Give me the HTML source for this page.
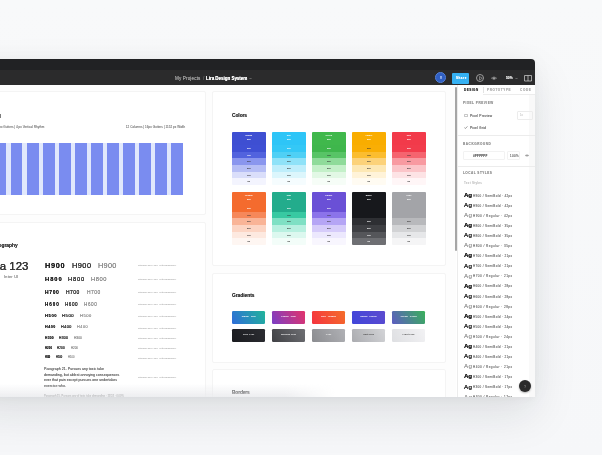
<!DOCTYPE html><html><head><meta charset="utf-8"><style>
*{margin:0;padding:0;box-sizing:border-box}
html,body{width:602px;height:455px;overflow:hidden}
body{position:relative;font-family:"Liberation Sans",sans-serif;background:linear-gradient(180deg,#f8f9fa 0px,#f6f7f9 455px)}
.a{position:absolute}
.t{position:absolute;white-space:nowrap;line-height:1;transform:scale(.1);transform-origin:0 0;text-shadow:0 0 4px currentColor}
.tr{transform-origin:100% 0}
#shadow{position:absolute;left:-30px;top:59px;width:565px;height:338px;border-radius:0 4px 0 0;box-shadow:0 18px 44px rgba(20,25,35,.10),0 2px 6px rgba(20,25,35,.03),0 0 24px rgba(20,25,35,.03)}
#win{position:absolute;left:0;top:0;width:602px;height:455px;clip-path:inset(59px 67px 58px 0 round 0 4px 0 0);will-change:transform}
.card{position:absolute;background:#fff;border:1px solid #f4f4f4;border-radius:2px}
.sw{position:absolute;width:33.6px;border-radius:1px;overflow:hidden}
.sw div{height:6.65px;font-size:2.3px;line-height:6.65px;text-align:center;font-weight:700}
.gr{position:absolute;width:33.2px;height:12.8px;border-radius:1.2px;font-size:2.4px;line-height:12.8px;text-align:center;color:#fff;font-weight:700}
</style></head><body>
<div id="shadow"></div>
<div id="win">
<div class="a" style="left:0;top:59px;width:535px;height:11.5px;background:#212224"></div>
<div class="a" style="left:0;top:70px;width:535px;height:15px;background:#2b2b2c"></div>
<div class="a" style="left:0;top:85px;width:456px;height:312px;background:#fdfdfd"></div>
<div class="a" style="left:456px;top:85px;width:79px;height:312px;background:#fff"></div>
<div class="t f0" style="left:175px;top:75.70px;font-size:46.00px;color:#a5a5a5;font-weight:400;letter-spacing:1.333px;">My Projects</div>
<div class="t" style="left:202.5px;top:75.70px;font-size:46.00px;color:#666;font-weight:400;">/</div>
<div class="t f1" style="left:206.2px;top:75.70px;font-size:46.00px;color:#fff;font-weight:700;letter-spacing:-0.785px;">Lira Design System</div>
<svg class="a" style="left:248.5px;top:76.6px" width="3" height="3" viewBox="0 0 3 3"><path d="M0.5 1 L1.5 2 L2.5 1" stroke="#8a8a8a" stroke-width="0.7" fill="none"/></svg>
<div class="a" style="left:435.3px;top:72.3px;width:10.8px;height:10.8px;border-radius:50%;background:#2f5fc4;border:1.2px solid #5581d6"></div>
<div class="t" style="left:439.5px;top:76.30px;font-size:30.00px;color:#bcd0f5;font-weight:700;">V</div>
<div class="a" style="left:452px;top:73px;width:16.8px;height:10.6px;border-radius:1px;background:#35b1f3"></div>
<div class="t f2" style="left:455.6px;top:76.40px;font-size:30.00px;color:#fff;font-weight:700;letter-spacing:4.902px;">Share</div>
<div class="a" style="left:475.5px;top:73.5px;width:8.8px;height:8.8px;border-radius:50%;border:0.9px solid #9c9c9c"></div>
<svg class="a" style="left:478.5px;top:75.8px" width="4" height="5" viewBox="0 0 4 5"><path d="M0.5 0.5 L3.3 2.2 L0.5 4 Z" stroke="#b0b0b0" stroke-width="0.6" fill="none"/></svg>
<svg class="a" style="left:491.2px;top:75.6px" width="6" height="4.4" viewBox="0 0 6 4.4"><path d="M0.4 2.2 Q3 -0.4 5.6 2.2 Q3 4.8 0.4 2.2 Z" stroke="#a8a8a8" stroke-width="0.6" fill="none"/><circle cx="3" cy="2.2" r="1" fill="#a8a8a8"/></svg>
<div class="t" style="left:505.5px;top:76.35px;font-size:33.00px;color:#e8e8e8;font-weight:700;">50%</div>
<svg class="a" style="left:514.5px;top:76.8px" width="3" height="3" viewBox="0 0 3 3"><path d="M0.4 0.9 L1.5 2 L2.6 0.9" stroke="#aaa" stroke-width="0.5" fill="none"/></svg>
<svg class="a" style="left:524px;top:74.5px" width="8" height="7" viewBox="0 0 8 7"><path d="M0.5 0.5 H7.5 V6 H0.5 Z M4 0.5 V6" stroke="#d5d5d5" stroke-width="0.7" fill="none"/></svg>
<div class="card" style="left:-20px;top:91px;width:226px;height:124px"></div>
<div class="t tr" style="right:600.50px;top:112.70px;font-size:56.00px;color:#777;font-weight:700;">Layout Grid</div>
<div class="t tr" style="right:557.60px;top:125.25px;font-size:31.00px;color:#858585;font-weight:400;">24px Margins | 16px Gutters | 4 px Vertical Rhythm</div>
<div class="t tr f3" style="right:417.30px;top:125.25px;font-size:31.00px;color:#858585;font-weight:400;letter-spacing:0.094px;">12 Columns | 16px Gutters | 1152 px Width</div>
<div class="a" style="left:-10px;top:142.5px;width:193px;height:52.5px;background:#e1e8fc"></div>
<div class="a" style="left:171.30px;top:142.5px;width:11.7px;height:52.5px;background:#7a8cf0"></div>
<div class="a" style="left:155.25px;top:142.5px;width:11.7px;height:52.5px;background:#7a8cf0"></div>
<div class="a" style="left:139.20px;top:142.5px;width:11.7px;height:52.5px;background:#7a8cf0"></div>
<div class="a" style="left:123.15px;top:142.5px;width:11.7px;height:52.5px;background:#7a8cf0"></div>
<div class="a" style="left:107.10px;top:142.5px;width:11.7px;height:52.5px;background:#7a8cf0"></div>
<div class="a" style="left:91.05px;top:142.5px;width:11.7px;height:52.5px;background:#7a8cf0"></div>
<div class="a" style="left:75.00px;top:142.5px;width:11.7px;height:52.5px;background:#7a8cf0"></div>
<div class="a" style="left:58.95px;top:142.5px;width:11.7px;height:52.5px;background:#7a8cf0"></div>
<div class="a" style="left:42.90px;top:142.5px;width:11.7px;height:52.5px;background:#7a8cf0"></div>
<div class="a" style="left:26.85px;top:142.5px;width:11.7px;height:52.5px;background:#7a8cf0"></div>
<div class="a" style="left:10.80px;top:142.5px;width:11.7px;height:52.5px;background:#7a8cf0"></div>
<div class="a" style="left:-5.25px;top:142.5px;width:11.7px;height:52.5px;background:#7a8cf0"></div>
<div class="card" style="left:-20px;top:222px;width:226px;height:200px"></div>
<div class="t tr" style="right:584.00px;top:242.55px;font-size:49.00px;color:#3a3a3a;font-weight:700;">Typography</div>
<div class="t tr" style="right:573.70px;top:260.25px;font-size:115.00px;color:#333;font-weight:400;-webkit-text-stroke:2.200px #333;">Aa 123</div>
<div class="t f4" style="left:4.3px;top:274.70px;font-size:38.00px;color:#8a8a8a;font-weight:400;letter-spacing:2.456px;">Inter UI</div>
<div class="t f5" style="left:45.0px;top:261.80px;font-size:74.00px;color:#222;font-weight:700;letter-spacing:6.831px;">H900</div>
<div class="t f6" style="left:71.8px;top:261.80px;font-size:74.00px;color:#333;font-weight:400;-webkit-text-stroke:1.200px #333;letter-spacing:4.498px;">H900</div>
<div class="t f7" style="left:97.9px;top:261.80px;font-size:74.00px;color:#8a8a8a;font-weight:400;letter-spacing:2.165px;">H900</div>
<div class="t f8" style="left:45.0px;top:276.10px;font-size:58.00px;color:#222;font-weight:700;letter-spacing:9.715px;">H800</div>
<div class="t f9" style="left:68.2px;top:276.10px;font-size:58.00px;color:#333;font-weight:400;-webkit-text-stroke:1.200px #333;letter-spacing:7.715px;">H800</div>
<div class="t f10" style="left:90.8px;top:276.10px;font-size:58.00px;color:#8a8a8a;font-weight:400;letter-spacing:5.381px;">H800</div>
<div class="t f11" style="left:45.0px;top:289.50px;font-size:50.00px;color:#222;font-weight:700;letter-spacing:6.490px;">H700</div>
<div class="t f12" style="left:66.0px;top:289.50px;font-size:50.00px;color:#333;font-weight:400;-webkit-text-stroke:1.200px #333;letter-spacing:4.490px;">H700</div>
<div class="t f13" style="left:86.6px;top:289.50px;font-size:50.00px;color:#8a8a8a;font-weight:400;letter-spacing:4.156px;">H700</div>
<div class="t f14" style="left:44.6px;top:302.30px;font-size:46.00px;color:#222;font-weight:700;letter-spacing:9.210px;">H600</div>
<div class="t f15" style="left:64.9px;top:302.30px;font-size:46.00px;color:#333;font-weight:400;-webkit-text-stroke:1.200px #333;letter-spacing:5.210px;">H600</div>
<div class="t f16" style="left:84.0px;top:302.30px;font-size:46.00px;color:#8a8a8a;font-weight:400;letter-spacing:6.210px;">H600</div>
<div class="t f17" style="left:44.6px;top:314.25px;font-size:41.00px;color:#222;font-weight:700;letter-spacing:5.695px;">H500</div>
<div class="t f18" style="left:62.4px;top:314.25px;font-size:41.00px;color:#333;font-weight:400;-webkit-text-stroke:1.200px #333;letter-spacing:5.695px;">H500</div>
<div class="t f19" style="left:79.8px;top:314.25px;font-size:41.00px;color:#8a8a8a;font-weight:400;letter-spacing:4.695px;">H500</div>
<div class="t f20" style="left:44.6px;top:325.35px;font-size:37.00px;color:#222;font-weight:700;letter-spacing:5.082px;">H400</div>
<div class="t f21" style="left:60.7px;top:325.35px;font-size:37.00px;color:#333;font-weight:400;-webkit-text-stroke:1.200px #333;letter-spacing:5.082px;">H400</div>
<div class="t f22" style="left:77.0px;top:325.35px;font-size:37.00px;color:#8a8a8a;font-weight:400;letter-spacing:6.082px;">H400</div>
<div class="t f23" style="left:44.6px;top:336.15px;font-size:33.00px;color:#222;font-weight:700;letter-spacing:2.470px;">H300</div>
<div class="t f24" style="left:59.0px;top:336.15px;font-size:33.00px;color:#333;font-weight:400;-webkit-text-stroke:1.200px #333;letter-spacing:2.803px;">H300</div>
<div class="t f25" style="left:74.0px;top:336.15px;font-size:33.00px;color:#8a8a8a;font-weight:400;letter-spacing:-0.197px;">H300</div>
<div class="t f26" style="left:44.6px;top:346.55px;font-size:29.00px;color:#222;font-weight:700;letter-spacing:0.191px;">H200</div>
<div class="t f27" style="left:57.4px;top:346.55px;font-size:29.00px;color:#333;font-weight:400;-webkit-text-stroke:1.200px #333;letter-spacing:1.857px;">H200</div>
<div class="t f28" style="left:70.7px;top:346.55px;font-size:29.00px;color:#8a8a8a;font-weight:400;letter-spacing:-0.143px;">H200</div>
<div class="t f29" style="left:44.6px;top:356.30px;font-size:26.00px;color:#222;font-weight:700;letter-spacing:-3.185px;">H100</div>
<div class="t f30" style="left:56.0px;top:356.30px;font-size:26.00px;color:#333;font-weight:400;-webkit-text-stroke:1.200px #333;letter-spacing:0.148px;">H100</div>
<div class="t f31" style="left:67.9px;top:356.30px;font-size:26.00px;color:#8a8a8a;font-weight:400;letter-spacing:0.481px;">H100</div>
<div class="t f32" style="left:137.8px;top:263.80px;font-size:22.00px;color:#b8b8b8;font-weight:400;letter-spacing:-0.760px;">Inter Bold 42px / 48px &middot; Letter Spacing 0%</div>
<div class="t f33" style="left:137.8px;top:277.90px;font-size:22.00px;color:#b8b8b8;font-weight:400;letter-spacing:-0.760px;">Inter Bold 42px / 48px &middot; Letter Spacing 0%</div>
<div class="t f34" style="left:137.8px;top:291.10px;font-size:22.00px;color:#b8b8b8;font-weight:400;letter-spacing:-0.760px;">Inter Bold 42px / 48px &middot; Letter Spacing 0%</div>
<div class="t f35" style="left:137.8px;top:303.40px;font-size:22.00px;color:#b8b8b8;font-weight:400;letter-spacing:-0.760px;">Inter Bold 42px / 48px &middot; Letter Spacing 0%</div>
<div class="t f36" style="left:137.8px;top:314.90px;font-size:22.00px;color:#b8b8b8;font-weight:400;letter-spacing:-0.760px;">Inter Bold 42px / 48px &middot; Letter Spacing 0%</div>
<div class="t f37" style="left:137.8px;top:326.50px;font-size:22.00px;color:#b8b8b8;font-weight:400;letter-spacing:-0.760px;">Inter Bold 42px / 48px &middot; Letter Spacing 0%</div>
<div class="t f38" style="left:137.8px;top:337.00px;font-size:22.00px;color:#b8b8b8;font-weight:400;letter-spacing:-0.760px;">Inter Bold 42px / 48px &middot; Letter Spacing 0%</div>
<div class="t f39" style="left:137.8px;top:346.90px;font-size:22.00px;color:#b8b8b8;font-weight:400;letter-spacing:-0.760px;">Inter Bold 42px / 48px &middot; Letter Spacing 0%</div>
<div class="t f40" style="left:137.8px;top:356.90px;font-size:22.00px;color:#b8b8b8;font-weight:400;letter-spacing:-0.760px;">Inter Bold 42px / 48px &middot; Letter Spacing 0%</div>
<div class="t f41" style="left:137.8px;top:375.90px;font-size:22.00px;color:#b8b8b8;font-weight:400;letter-spacing:-0.760px;">Inter Bold 42px / 48px &middot; Letter Spacing 0%</div>
<div class="t" style="left:44.4px;top:367.40px;font-size:36.00px;color:#666;font-weight:400;">Paragraph 21. Pursues any toxic take</div>
<div class="t" style="left:44.4px;top:372.87px;font-size:36.00px;color:#666;font-weight:400;">demanding, but ablest annoying consequences</div>
<div class="t" style="left:44.4px;top:378.34px;font-size:36.00px;color:#666;font-weight:400;">ever that pain except pursues one undertakes</div>
<div class="t" style="left:44.4px;top:383.81px;font-size:36.00px;color:#666;font-weight:400;">exercise who.</div>
<div class="t f42" style="left:44.4px;top:394.70px;font-size:26.00px;color:#666;font-weight:400;letter-spacing:0.238px;">Paragraph 15. Pursues any of toxic take demanding &middot; 15/24 &middot; 0.00%</div>
<div class="card" style="left:212px;top:91px;width:234px;height:175px"></div>
<div class="t f43" style="left:232px;top:112.85px;font-size:49.00px;color:#3a3a3a;font-weight:700;letter-spacing:-0.858px;">Colors</div>
<div class="sw" style="left:232px;top:132px"><div style="height:13px;background:#3e4fd2;color:#fff;line-height:3.8px;padding-top:2.4px;font-weight:700">Indigo<br>500</div><div style="background:#3f50d4;color:#fff">600</div><div style="background:#5263de;color:#fff">700</div><div style="background:#8a96ee;color:#333">300</div><div style="background:#b6bef5;color:#333">200</div><div style="background:#dadefa;color:#333">100</div><div style="background:#f3f4fe;color:#333">50</div></div>
<div class="sw" style="left:272px;top:132px"><div style="height:13px;background:#2ec5f7;color:#fff;line-height:3.8px;padding-top:2.4px;font-weight:700">Sky<br>500</div><div style="background:#34c8f6;color:#fff">600</div><div style="background:#4fd0f5;color:#333">700</div><div style="background:#8fe2f8;color:#333">300</div><div style="background:#bfeefb;color:#333">200</div><div style="background:#dcf6fc;color:#333">100</div><div style="background:#f5fcfe;color:#333">50</div></div>
<div class="sw" style="left:312px;top:132px"><div style="height:13px;background:#40b84c;color:#fff;line-height:3.8px;padding-top:2.4px;font-weight:700">Green<br>500</div><div style="background:#3fb64c;color:#fff">600</div><div style="background:#58c466;color:#333">700</div><div style="background:#8fdb9a;color:#333">300</div><div style="background:#c4f0c9;color:#333">200</div><div style="background:#e2f8e5;color:#333">100</div><div style="background:#f6fdf7;color:#333">50</div></div>
<div class="sw" style="left:352px;top:132px"><div style="height:13px;background:#f9ad00;color:#fff;line-height:3.8px;padding-top:2.4px;font-weight:700">Amber<br>500</div><div style="background:#f9ae05;color:#333">600</div><div style="background:#fbbd30;color:#333">700</div><div style="background:#fcd27a;color:#333">300</div><div style="background:#fde8b5;color:#333">200</div><div style="background:#fff3d9;color:#333">100</div><div style="background:#fffbf2;color:#333">50</div></div>
<div class="sw" style="left:392px;top:132px"><div style="height:13px;background:#f23a4a;color:#fff;line-height:3.8px;padding-top:2.4px;font-weight:700">Red<br>500</div><div style="background:#f23c4c;color:#fff">600</div><div style="background:#f5646f;color:#333">700</div><div style="background:#f89aa1;color:#333">300</div><div style="background:#fbc5c9;color:#333">200</div><div style="background:#fde3e5;color:#333">100</div><div style="background:#fff6f7;color:#333">50</div></div>
<div class="sw" style="left:232px;top:192px"><div style="height:13px;background:#f46b2e;color:#fff;line-height:3.8px;padding-top:2.4px;font-weight:700">Orange<br>500</div><div style="background:#f46b2e;color:#fff">600</div><div style="background:#f6885a;color:#333">700</div><div style="background:#f9b497;color:#333">300</div><div style="background:#fcd5c4;color:#333">200</div><div style="background:#fde9e0;color:#333">100</div><div style="background:#fef6f2;color:#333">50</div></div>
<div class="sw" style="left:272px;top:192px"><div style="height:13px;background:#23ac8c;color:#fff;line-height:3.8px;padding-top:2.4px;font-weight:700">Teal<br>500</div><div style="background:#23ac8c;color:#fff">600</div><div style="background:#38c9a2;color:#333">700</div><div style="background:#7fe0c4;color:#333">300</div><div style="background:#b8f0e0;color:#333">200</div><div style="background:#dcf8ef;color:#333">100</div><div style="background:#f3fdf9;color:#333">50</div></div>
<div class="sw" style="left:312px;top:192px"><div style="height:13px;background:#6a50d6;color:#fff;line-height:3.8px;padding-top:2.4px;font-weight:700">Purple<br>500</div><div style="background:#6a50d6;color:#fff">600</div><div style="background:#8b73ea;color:#333">700</div><div style="background:#b5a5f5;color:#333">300</div><div style="background:#d6ccfa;color:#333">200</div><div style="background:#ece8fd;color:#333">100</div><div style="background:#f8f6fe;color:#333">50</div></div>
<div class="sw" style="left:352px;top:192px"><div style="height:13px;background:#17181c;color:#fff;line-height:3.8px;padding-top:2.4px;font-weight:700">Black<br>500</div><div style="background:#17181c;color:#fff"></div><div style="background:#17181c;color:#fff"></div><div style="background:#2e2f33;color:#fff">300</div><div style="background:#3e3f43;color:#fff">200</div><div style="background:#55565a;color:#fff">100</div><div style="background:#6e6f73;color:#fff">50</div></div>
<div class="sw" style="left:392px;top:192px"><div style="height:13px;background:#a3a4a8;color:#fff;line-height:3.8px;padding-top:2.4px;font-weight:700">Gray<br>500</div><div style="background:#a3a4a8;color:#333"></div><div style="background:#a3a4a8;color:#333"></div><div style="background:#b8b9bc;color:#333">300</div><div style="background:#d2d3d5;color:#333">200</div><div style="background:#e6e7e9;color:#333">100</div><div style="background:#f5f5f6;color:#333">50</div></div>
<div class="card" style="left:212px;top:272.5px;width:234px;height:90px"></div>
<div class="t f44" style="left:232px;top:292.55px;font-size:49.00px;color:#3a3a3a;font-weight:700;letter-spacing:-0.479px;">Gradients</div>
<div class="gr" style="left:232px;top:311.3px;background:linear-gradient(60deg,#2e6cd9,#21b49a);color:#fff">Indigo - Teal</div>
<div class="gr" style="left:272px;top:311.3px;background:linear-gradient(60deg,#7a3fc6,#e3336a);color:#fff">Purple - Pink</div>
<div class="gr" style="left:312px;top:311.3px;background:linear-gradient(60deg,#f5333f,#f46d2a);color:#fff">Red - Orange</div>
<div class="gr" style="left:352px;top:311.3px;background:linear-gradient(60deg,#4146da,#5c4bcf);color:#fff">Indigo - Purple</div>
<div class="gr" style="left:392px;top:311.3px;background:linear-gradient(60deg,#5d5cc2,#39b05a);color:#fff">Ocean - Green</div>
<div class="gr" style="left:232px;top:328.9px;background:linear-gradient(60deg,#1a1b1f,#2c2d32);color:#ddd">Dark Gray</div>
<div class="gr" style="left:272px;top:328.9px;background:linear-gradient(60deg,#404145,#6e6f73);color:#eee">Medium Gray</div>
<div class="gr" style="left:312px;top:328.9px;background:linear-gradient(60deg,#8b8c90,#b0b1b5);color:#eee">Gray</div>
<div class="gr" style="left:352px;top:328.9px;background:linear-gradient(60deg,#abacb0,#d3d4d7);color:#444">Soft Gray</div>
<div class="gr" style="left:392px;top:328.9px;background:linear-gradient(60deg,#dedfe2,#f2f2f4);color:#555">Light Gray</div>
<div class="card" style="left:212px;top:369px;width:234px;height:60px"></div>
<div class="t f45" style="left:232px;top:389.55px;font-size:49.00px;color:#3a3a3a;font-weight:700;letter-spacing:-1.665px;">Borders</div>
<div class="a" style="left:455px;top:87px;width:2px;height:164px;background:#a6a6a6;border-radius:1px"></div>
<div class="a" style="left:529px;top:94px;width:6px;height:303px;background:#f9f9f9"></div>
<div class="a" style="left:456.5px;top:85px;width:0.6px;height:312px;background:#ececec"></div>
<div class="t f46" style="left:464px;top:88.05px;font-size:31.00px;color:#444;font-weight:700;letter-spacing:4.648px;">DESIGN</div>
<div class="a" style="left:483px;top:87px;width:0.5px;height:6px;background:#e3e3e3"></div>
<div class="t f47" style="left:487.2px;top:88.05px;font-size:31.00px;color:#b3b3b3;font-weight:700;letter-spacing:5.682px;">PROTOTYPE</div>
<div class="t f48" style="left:519.8px;top:88.05px;font-size:31.00px;color:#b3b3b3;font-weight:700;letter-spacing:6.507px;">CODE</div>
<div class="a" style="left:483px;top:93.8px;width:52px;height:0.6px;background:#ececec"></div>
<div class="t f49" style="left:463.3px;top:101.05px;font-size:31.00px;color:#9a9a9a;font-weight:700;letter-spacing:5.124px;">PIXEL PREVIEW</div>
<div class="a" style="left:464px;top:113.5px;width:3.6px;height:3.6px;border:0.5px solid #c8c8c8;border-radius:0.6px"></div>
<div class="t f50" style="left:470px;top:113.55px;font-size:33.00px;color:#6a6a6a;font-weight:400;letter-spacing:2.018px;">Pixel Preview</div>
<div class="a" style="left:516.5px;top:110.6px;width:16px;height:9.3px;border:0.5px solid #ececec;border-radius:1px"></div>
<div class="t" style="left:519.5px;top:113.90px;font-size:26.00px;color:#ccc;font-weight:400;">1x</div>
<svg class="a" style="left:463.8px;top:125.6px" width="4" height="3" viewBox="0 0 4 3"><path d="M0.4 1.5 L1.4 2.5 L3.4 0.4" stroke="#555" stroke-width="0.6" fill="none"/></svg>
<div class="t f51" style="left:470px;top:125.55px;font-size:33.00px;color:#6a6a6a;font-weight:400;letter-spacing:1.695px;">Pixel Grid</div>
<div class="a" style="left:457px;top:135.2px;width:78px;height:0.6px;background:#ececec"></div>
<div class="t f52" style="left:463px;top:141.85px;font-size:31.00px;color:#9a9a9a;font-weight:700;letter-spacing:5.641px;">BACKGROUND</div>
<div class="a" style="left:463.2px;top:151.4px;width:42px;height:8.4px;border:0.5px solid #f2f2f2;border-radius:1px"></div>
<div class="t f53" style="left:472.7px;top:154.20px;font-size:30.00px;color:#666;font-weight:700;letter-spacing:2.727px;">#FFFFFF</div>
<div class="a" style="left:507px;top:151.4px;width:12.8px;height:8.4px;border:0.5px solid #f2f2f2;border-radius:1px"></div>
<div class="t f54" style="left:509.9px;top:154.20px;font-size:30.00px;color:#6a6a6a;font-weight:400;letter-spacing:3.422px;">100%</div>
<svg class="a" style="left:525.3px;top:154.2px" width="4" height="3" viewBox="0 0 4 3"><path d="M0.2 1.5 Q2 -0.2 3.8 1.5 Q2 3.2 0.2 1.5 Z" stroke="#666" stroke-width="0.4" fill="none"/><circle cx="2" cy="1.5" r="0.6" fill="#666"/></svg>
<div class="a" style="left:457px;top:166.2px;width:78px;height:0.6px;background:#ececec"></div>
<div class="t f55" style="left:463px;top:170.85px;font-size:31.00px;color:#9a9a9a;font-weight:700;letter-spacing:4.790px;">LOCAL STYLES</div>
<div class="t f56" style="left:464px;top:181.05px;font-size:31.00px;color:#c0c0c0;font-weight:400;letter-spacing:2.721px;">Text Styles</div>
<div class="t f57" style="left:463.8px;top:192.00px;font-size:62.00px;color:#222;font-weight:700;letter-spacing:-3.456px;">Ag</div>
<div class="t f58" style="left:473.1px;top:193.75px;font-size:31.00px;color:#7a7a7a;font-weight:400;letter-spacing:2.985px;">H900 / SemiBold &middot; 42px</div>
<div class="t f59" style="left:463.8px;top:202.08px;font-size:62.00px;color:#333;font-weight:400;-webkit-text-stroke:2.000px #333;letter-spacing:3.356px;">Ag</div>
<div class="t f60" style="left:473.1px;top:203.83px;font-size:31.00px;color:#7a7a7a;font-weight:400;letter-spacing:2.985px;">H900 / SemiBold &middot; 42px</div>
<div class="t f61" style="left:463.8px;top:212.16px;font-size:62.00px;color:#999;font-weight:400;letter-spacing:3.356px;">Ag</div>
<div class="t f62" style="left:473.1px;top:213.91px;font-size:31.00px;color:#7a7a7a;font-weight:400;letter-spacing:4.341px;">H900 / Regular &middot; 42px</div>
<div class="t f63" style="left:463.8px;top:222.24px;font-size:62.00px;color:#222;font-weight:700;letter-spacing:-3.456px;">Ag</div>
<div class="t f64" style="left:473.1px;top:223.99px;font-size:31.00px;color:#7a7a7a;font-weight:400;letter-spacing:2.985px;">H800 / SemiBold &middot; 35px</div>
<div class="t f65" style="left:463.8px;top:232.32px;font-size:62.00px;color:#333;font-weight:400;-webkit-text-stroke:2.000px #333;letter-spacing:3.356px;">Ag</div>
<div class="t f66" style="left:473.1px;top:234.07px;font-size:31.00px;color:#7a7a7a;font-weight:400;letter-spacing:2.985px;">H800 / SemiBold &middot; 35px</div>
<div class="t f67" style="left:463.8px;top:242.40px;font-size:62.00px;color:#999;font-weight:400;letter-spacing:3.356px;">Ag</div>
<div class="t f68" style="left:473.1px;top:244.15px;font-size:31.00px;color:#7a7a7a;font-weight:400;letter-spacing:4.341px;">H800 / Regular &middot; 35px</div>
<div class="t f69" style="left:463.8px;top:252.48px;font-size:62.00px;color:#222;font-weight:700;letter-spacing:-3.456px;">Ag</div>
<div class="t f70" style="left:473.1px;top:254.23px;font-size:31.00px;color:#7a7a7a;font-weight:400;letter-spacing:2.985px;">H700 / SemiBold &middot; 21px</div>
<div class="t f71" style="left:463.8px;top:262.56px;font-size:62.00px;color:#333;font-weight:400;-webkit-text-stroke:2.000px #333;letter-spacing:3.356px;">Ag</div>
<div class="t f72" style="left:473.1px;top:264.31px;font-size:31.00px;color:#7a7a7a;font-weight:400;letter-spacing:2.985px;">H700 / SemiBold &middot; 21px</div>
<div class="t f73" style="left:463.8px;top:272.64px;font-size:62.00px;color:#999;font-weight:400;letter-spacing:3.356px;">Ag</div>
<div class="t f74" style="left:473.1px;top:274.39px;font-size:31.00px;color:#7a7a7a;font-weight:400;letter-spacing:4.341px;">H700 / Regular &middot; 21px</div>
<div class="t f75" style="left:463.8px;top:282.72px;font-size:62.00px;color:#222;font-weight:700;letter-spacing:-3.456px;">Ag</div>
<div class="t f76" style="left:473.1px;top:284.47px;font-size:31.00px;color:#7a7a7a;font-weight:400;letter-spacing:2.985px;">H600 / SemiBold &middot; 28px</div>
<div class="t f77" style="left:463.8px;top:292.80px;font-size:62.00px;color:#333;font-weight:400;-webkit-text-stroke:2.000px #333;letter-spacing:3.356px;">Ag</div>
<div class="t f78" style="left:473.1px;top:294.55px;font-size:31.00px;color:#7a7a7a;font-weight:400;letter-spacing:2.985px;">H600 / SemiBold &middot; 28px</div>
<div class="t f79" style="left:463.8px;top:302.88px;font-size:62.00px;color:#999;font-weight:400;letter-spacing:3.356px;">Ag</div>
<div class="t f80" style="left:473.1px;top:304.63px;font-size:31.00px;color:#7a7a7a;font-weight:400;letter-spacing:4.341px;">H600 / Regular &middot; 28px</div>
<div class="t f81" style="left:463.8px;top:312.96px;font-size:62.00px;color:#222;font-weight:700;letter-spacing:-3.456px;">Ag</div>
<div class="t f82" style="left:473.1px;top:314.71px;font-size:31.00px;color:#7a7a7a;font-weight:400;letter-spacing:2.985px;">H500 / SemiBold &middot; 24px</div>
<div class="t f83" style="left:463.8px;top:323.04px;font-size:62.00px;color:#333;font-weight:400;-webkit-text-stroke:2.000px #333;letter-spacing:3.356px;">Ag</div>
<div class="t f84" style="left:473.1px;top:324.79px;font-size:31.00px;color:#7a7a7a;font-weight:400;letter-spacing:2.985px;">H500 / SemiBold &middot; 24px</div>
<div class="t f85" style="left:463.8px;top:333.12px;font-size:62.00px;color:#999;font-weight:400;letter-spacing:3.356px;">Ag</div>
<div class="t f86" style="left:473.1px;top:334.87px;font-size:31.00px;color:#7a7a7a;font-weight:400;letter-spacing:4.341px;">H500 / Regular &middot; 24px</div>
<div class="t f87" style="left:463.8px;top:343.20px;font-size:62.00px;color:#222;font-weight:700;letter-spacing:-3.456px;">Ag</div>
<div class="t f88" style="left:473.1px;top:344.95px;font-size:31.00px;color:#7a7a7a;font-weight:400;letter-spacing:2.985px;">H400 / SemiBold &middot; 21px</div>
<div class="t f89" style="left:463.8px;top:353.28px;font-size:62.00px;color:#333;font-weight:400;-webkit-text-stroke:2.000px #333;letter-spacing:3.356px;">Ag</div>
<div class="t f90" style="left:473.1px;top:355.03px;font-size:31.00px;color:#7a7a7a;font-weight:400;letter-spacing:2.985px;">H400 / SemiBold &middot; 21px</div>
<div class="t f91" style="left:463.8px;top:363.36px;font-size:62.00px;color:#999;font-weight:400;letter-spacing:3.356px;">Ag</div>
<div class="t f92" style="left:473.1px;top:365.11px;font-size:31.00px;color:#7a7a7a;font-weight:400;letter-spacing:4.341px;">H400 / Regular &middot; 21px</div>
<div class="t f93" style="left:463.8px;top:373.44px;font-size:62.00px;color:#222;font-weight:700;letter-spacing:-3.456px;">Ag</div>
<div class="t f94" style="left:473.1px;top:375.19px;font-size:31.00px;color:#7a7a7a;font-weight:400;letter-spacing:2.985px;">H300 / SemiBold &middot; 17px</div>
<div class="t f95" style="left:463.8px;top:383.52px;font-size:62.00px;color:#333;font-weight:400;-webkit-text-stroke:2.000px #333;letter-spacing:3.356px;">Ag</div>
<div class="t f96" style="left:473.1px;top:385.27px;font-size:31.00px;color:#7a7a7a;font-weight:400;letter-spacing:2.985px;">H300 / SemiBold &middot; 17px</div>
<div class="t f97" style="left:463.8px;top:393.60px;font-size:62.00px;color:#999;font-weight:400;letter-spacing:3.356px;">Ag</div>
<div class="t f98" style="left:473.1px;top:395.35px;font-size:31.00px;color:#7a7a7a;font-weight:400;letter-spacing:4.341px;">H300 / Regular &middot; 17px</div>
<div class="a" style="left:0;top:384px;width:535px;height:13px;background:linear-gradient(180deg,rgba(236,237,239,0),rgba(232,233,236,.8));-webkit-mask-image:linear-gradient(90deg,#000 0,#000 285px,transparent 335px)"></div>
<div class="a" style="left:519.4px;top:380.4px;width:12px;height:12px;border-radius:50%;background:#2a2a2a;box-shadow:0 1px 2px rgba(0,0,0,.3)"></div>
<div class="t" style="left:524.3px;top:384.65px;font-size:35.00px;color:#666;font-weight:700;">?</div>
</div>
</body></html>
